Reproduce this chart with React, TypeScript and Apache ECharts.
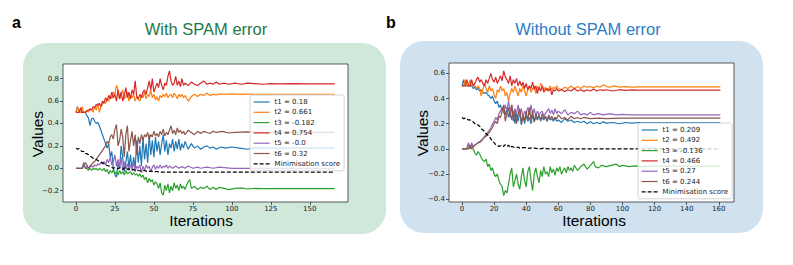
import React, { useEffect, useRef } from "react";
import * as echarts from "echarts";

// ---------- DATA (flat [iteration, value, iteration, value, ...]) ----------
const leftNames = ["t1 = 0.18", "t2 = 0.661", "t3 = -0.182", "t4 = 0.754", "t5 = -0.0", "t6 = 0.32", "Minimisation score"];
const rightNames = ["t1 = 0.209", "t2 = 0.492", "t3 = -0.136", "t4 = 0.466", "t5 = 0.27", "t6 = 0.244", "Minimisation score"];

const leftXTicks = [0, 25, 50, 75, 100, 125, 150];
const leftYTicks = [-0.2, 0, 0.2, 0.4, 0.6, 0.8];
const rightXTicks = [0, 20, 40, 60, 80, 100, 120, 140, 160];
const rightYTicks = [-0.4, -0.2, 0, 0.2, 0.4, 0.6];

const leftT1 = [0,0.5,1,0.55,2,0.5,3,0.5,4,0.5,5,0.5,6,0.5,7,0.47,8,0.45,9,0.38,10,0.44,11,0.45,12,0.42,13,0.4,14,0.41,15,0.38,16,0.34,17,0.3,18,0.26,19,0.22,20,0.18,21,0.22,22,0.1,23,0.15,24,0.0,25,-0.06,26,-0.08,27,0.05,28,0.0,29,0.2,30,0.1,31,-0.03,32,0.05,33,0.15,34,0.0,35,0.12,36,-0.02,37,0.1,38,0.0,39,0.25,40,0.05,41,0.2,42,0.02,43,0.28,44,0.08,45,0.22,46,0.05,47,0.3,48,0.12,49,0.25,50,0.1,51,0.28,52,0.15,53,0.24,54,0.12,55,0.22,56,0.3,57,0.15,58,0.25,59,0.12,60,0.22,61,0.18,62,0.26,63,0.15,64,0.24,65,0.17,66,0.26,67,0.16,68,0.22,69,0.18,70,0.24,72,0.17,74,0.22,76,0.18,78,0.2,80,0.17,82,0.19,84,0.2,86,0.18,88,0.19,90,0.17,93,0.19,96,0.18,100,0.19,105,0.18,110,0.17,115,0.185,120,0.18,130,0.18,166,0.18];
const leftT2 = [0,0.5,1,0.55,2,0.5,3,0.5,4,0.55,5,0.5,6,0.5,7,0.52,8,0.5,9,0.52,10,0.53,11,0.5,12,0.55,13,0.52,14,0.58,15,0.5,16,0.55,17,0.57,18,0.6,19,0.58,20,0.62,21,0.6,22,0.65,23,0.62,24,0.68,25,0.66,26,0.74,27,0.7,28,0.62,29,0.66,30,0.7,31,0.62,32,0.64,33,0.68,34,0.6,35,0.65,36,0.63,37,0.66,38,0.6,39,0.64,40,0.62,41,0.6,42,0.65,43,0.63,44,0.68,45,0.62,46,0.66,47,0.64,48,0.7,49,0.63,50,0.66,51,0.61,52,0.64,53,0.6,54,0.65,55,0.63,56,0.66,57,0.64,58,0.67,59,0.63,60,0.65,61,0.66,62,0.63,63,0.67,64,0.65,65,0.62,66,0.66,67,0.64,68,0.66,69,0.63,70,0.65,72,0.6,74,0.64,76,0.66,78,0.64,80,0.66,82,0.65,84,0.67,86,0.65,88,0.66,90,0.655,93,0.665,96,0.66,100,0.665,105,0.66,110,0.662,120,0.66,130,0.661,166,0.661];
const leftT3 = [0,0,1,0,2,0,3,0,4,0,5,0.05,6,0,7,0,8,-0.02,9,0,10,-0.02,11,0,12,-0.01,13,0,14,-0.02,15,0,16,-0.01,17,-0.02,18,0,19,-0.03,20,-0.01,21,-0.05,22,-0.02,23,-0.04,24,-0.01,25,-0.05,26,-0.03,27,-0.06,28,-0.02,29,-0.05,30,-0.03,31,-0.06,32,-0.02,33,-0.05,34,-0.04,35,-0.03,36,-0.06,37,-0.04,38,-0.06,39,-0.05,40,-0.07,41,-0.05,42,-0.08,43,-0.06,44,-0.1,45,-0.08,46,-0.13,47,-0.09,48,-0.12,49,-0.1,50,-0.15,51,-0.12,52,-0.14,53,-0.18,54,-0.13,55,-0.22,56,-0.24,57,-0.15,58,-0.2,59,-0.14,60,-0.22,61,-0.16,62,-0.2,63,-0.13,64,-0.18,65,-0.15,66,-0.2,67,-0.14,68,-0.18,69,-0.16,70,-0.19,71,-0.15,72,-0.12,73,-0.1,74,-0.18,76,-0.16,78,-0.19,80,-0.17,82,-0.18,84,-0.16,86,-0.19,88,-0.17,90,-0.19,92,-0.17,95,-0.18,98,-0.19,102,-0.18,106,-0.175,110,-0.185,115,-0.18,120,-0.182,166,-0.182];
const leftT4 = [0,0.5,1,0.5,2,0.5,3,0.54,4,0.5,5,0.5,6,0.5,7,0.51,8,0.52,9,0.53,10,0.52,11,0.55,12,0.54,13,0.57,14,0.56,15,0.58,16,0.55,17,0.6,18,0.58,19,0.63,20,0.6,21,0.65,22,0.62,23,0.68,24,0.63,25,0.66,26,0.6,27,0.7,28,0.62,29,0.68,30,0.6,31,0.65,32,0.72,33,0.63,34,0.68,35,0.62,36,0.7,37,0.66,38,0.78,39,0.64,40,0.62,41,0.66,42,0.63,43,0.68,44,0.7,45,0.66,46,0.72,47,0.78,48,0.7,49,0.8,50,0.68,51,0.72,52,0.76,53,0.72,54,0.8,55,0.74,56,0.7,57,0.76,58,0.74,59,0.82,60,0.87,61,0.78,62,0.74,63,0.76,64,0.82,65,0.74,66,0.78,67,0.73,68,0.8,69,0.74,70,0.76,72,0.74,74,0.77,76,0.75,78,0.74,80,0.76,82,0.78,84,0.75,86,0.76,88,0.75,90,0.77,92,0.75,95,0.76,98,0.75,102,0.76,106,0.75,110,0.76,115,0.755,120,0.75,125,0.755,130,0.754,140,0.755,150,0.754,166,0.754];
const leftT5 = [0,0,1,0,2,0,3,0,4,0,5,0.05,6,0,7,0.02,8,0,9,0.01,10,0.02,11,0.01,12,0.03,13,0.02,14,0.04,15,0.03,16,0.05,17,0.04,18,0.06,19,0.03,20,0.08,21,0.05,22,0.1,23,0.03,24,0.06,25,0.12,26,0.02,27,0.08,28,0,29,0.1,30,-0.02,31,0.06,32,0,33,0.04,34,-0.02,35,0.03,36,0,37,0.05,38,-0.03,39,0.02,40,0,41,0.03,42,-0.04,43,0.02,44,-0.02,45,0.03,46,0,47,0.02,48,-0.03,49,0.01,50,0.03,51,-0.01,52,0.02,53,0,54,0.03,55,0,56,0.02,57,0.01,58,0.03,59,0,60,0.02,62,0,64,0.02,66,0,68,0.015,70,0,72,0.02,75,0,78,0.01,80,0,84,0.01,88,0,92,0.01,100,0,166,0];
const leftT6 = [0,0,1,0,2,0,3,0,4,0,5,0.02,6,0.05,7,0.03,8,0,9,0.02,10,0.03,11,0.05,12,0.06,13,0.08,14,0.1,15,0.12,16,0.14,17,0.16,18,0.18,19,0.2,20,0.24,21,0.22,22,0.28,23,0.3,24,0.26,25,0.35,26,0.39,27,0.2,28,0.25,29,0.35,30,0.28,31,0.1,32,0.3,33,0.38,34,0.15,35,0.25,36,0.33,37,0.2,38,0.3,39,0.12,40,0.28,41,0.22,42,0.3,43,0.25,44,0.3,45,0.28,46,0.32,47,0.26,48,0.3,49,0.28,50,0.33,51,0.29,52,0.31,53,0.28,54,0.33,55,0.3,56,0.35,57,0.29,58,0.32,59,0.3,60,0.34,61,0.38,62,0.31,63,0.34,64,0.3,65,0.36,66,0.32,67,0.34,68,0.31,69,0.33,70,0.3,72,0.34,74,0.32,76,0.3,78,0.33,80,0.31,82,0.33,84,0.32,86,0.31,88,0.33,90,0.32,94,0.33,98,0.315,102,0.32,110,0.325,120,0.32,166,0.32];
const leftScore = [0,0.18,1,0.17,2,0.175,3,0.16,4,0.15,5,0.15,6,0.13,7,0.13,8,0.12,9,0.11,10,0.1,11,0.09,12,0.085,13,0.08,14,0.07,15,0.06,16,0.055,17,0.05,18,0.04,19,0.03,20,0.025,21,0.02,22,0.015,23,0.01,24,0,25,0.005,26,0,27,-0.005,28,0.005,29,0,30,-0.01,31,0,32,0.01,33,-0.01,34,-0.005,35,-0.01,36,-0.015,37,-0.01,38,-0.02,39,-0.015,40,-0.02,42,-0.025,44,-0.02,46,-0.03,48,-0.025,50,-0.03,52,-0.03,55,-0.035,166,-0.035];

const rightT1 = [0,0.5,1,0.55,2,0.5,3,0.5,4,0.5,5,0.5,6,0.5,7,0.48,8,0.49,9,0.47,10,0.48,11,0.46,12,0.47,13,0.45,14,0.44,15,0.45,16,0.43,17,0.42,18,0.4,19,0.42,20,0.38,21,0.36,22,0.38,23,0.33,24,0.35,25,0.3,26,0.33,27,0.27,28,0.32,29,0.25,30,0.3,31,0.23,32,0.3,33,0.2,34,0.28,35,0.22,36,0.3,37,0.19,38,0.26,39,0.2,40,0.27,41,0.22,42,0.25,43,0.2,44,0.27,45,0.22,46,0.25,47,0.23,48,0.27,49,0.22,50,0.25,51,0.23,52,0.26,53,0.22,54,0.25,55,0.23,56,0.24,57,0.22,58,0.25,59,0.22,60,0.23,62,0.21,64,0.24,66,0.22,68,0.23,70,0.21,72,0.22,74,0.21,76,0.22,78,0.2,80,0.215,82,0.2,84,0.21,86,0.2,88,0.215,90,0.205,94,0.21,98,0.2,102,0.21,106,0.205,110,0.21,161,0.209];
const rightT2 = [0,0.5,1,0.5,2,0.55,3,0.5,4,0.5,5,0.55,6,0.5,7,0.5,8,0.5,9,0.48,10,0.5,11,0.48,12,0.42,13,0.47,14,0.52,15,0.48,16,0.45,17,0.5,18,0.46,19,0.48,20,0.43,21,0.4,22,0.47,23,0.45,24,0.5,25,0.46,26,0.48,27,0.42,28,0.45,29,0.38,30,0.44,31,0.48,32,0.45,33,0.5,34,0.46,35,0.42,36,0.48,37,0.45,38,0.5,39,0.46,40,0.42,41,0.47,42,0.5,43,0.45,44,0.48,45,0.5,46,0.44,47,0.5,48,0.47,49,0.52,50,0.5,51,0.47,52,0.49,53,0.46,54,0.48,55,0.5,56,0.47,57,0.49,58,0.48,59,0.5,60,0.48,62,0.47,64,0.49,66,0.48,68,0.5,70,0.48,72,0.495,74,0.48,76,0.5,78,0.49,80,0.495,82,0.485,84,0.5,86,0.49,88,0.51,90,0.495,92,0.49,95,0.5,98,0.49,102,0.495,106,0.49,110,0.492,161,0.492];
const rightT3 = [0,0,1,0,2,0,3,0,4,0.04,5,0,6,0.04,7,0,8,-0.03,9,-0.05,10,-0.02,11,-0.04,12,-0.07,13,-0.09,14,-0.1,15,-0.08,16,-0.14,17,-0.12,18,-0.17,19,-0.15,20,-0.2,21,-0.22,22,-0.2,23,-0.25,24,-0.28,25,-0.3,26,-0.37,27,-0.33,28,-0.35,29,-0.28,30,-0.2,31,-0.15,32,-0.3,33,-0.25,34,-0.2,35,-0.28,36,-0.32,37,-0.22,38,-0.15,39,-0.25,40,-0.3,41,-0.18,42,-0.14,43,-0.25,44,-0.33,45,-0.2,46,-0.15,47,-0.22,48,-0.27,49,-0.17,50,-0.22,51,-0.14,52,-0.2,53,-0.18,54,-0.22,55,-0.14,56,-0.19,57,-0.16,58,-0.21,59,-0.15,60,-0.18,61,-0.14,62,-0.2,63,-0.17,64,-0.15,65,-0.19,66,-0.14,67,-0.17,68,-0.15,69,-0.18,70,-0.13,72,-0.17,74,-0.14,76,-0.12,78,-0.16,80,-0.13,82,-0.1,83,-0.14,85,-0.15,87,-0.13,90,-0.14,93,-0.13,96,-0.12,98,-0.14,100,-0.13,104,-0.14,108,-0.135,112,-0.14,120,-0.136,161,-0.136];
const rightT4 = [0,0.5,1,0.5,2,0.5,3,0.55,4,0.5,5,0.5,6,0.55,7,0.5,8,0.52,9,0.55,10,0.57,11,0.53,12,0.55,13,0.52,14,0.5,15,0.55,16,0.52,17,0.56,18,0.6,19,0.55,20,0.53,21,0.57,22,0.52,23,0.55,24,0.58,25,0.54,26,0.62,27,0.57,28,0.55,29,0.52,30,0.58,31,0.5,32,0.55,33,0.52,34,0.56,35,0.5,36,0.54,37,0.5,38,0.53,39,0.48,40,0.52,41,0.47,42,0.5,43,0.48,44,0.53,45,0.47,46,0.5,47,0.44,48,0.49,49,0.46,50,0.5,51,0.45,52,0.47,53,0.48,54,0.46,55,0.48,56,0.43,57,0.47,58,0.46,59,0.48,60,0.46,62,0.47,64,0.455,66,0.47,68,0.46,70,0.48,72,0.46,74,0.47,76,0.455,78,0.47,80,0.46,82,0.475,84,0.46,86,0.47,88,0.465,90,0.47,94,0.46,98,0.47,102,0.465,106,0.468,110,0.466,161,0.466];
const rightT5 = [0,0,1,0,2,0,3,0,4,0.05,5,0,6,0.05,7,0.02,8,0.03,9,0.04,10,0.05,11,0.06,12,0.07,13,0.08,14,0.1,15,0.11,16,0.13,17,0.15,18,0.17,19,0.2,20,0.22,21,0.25,22,0.23,23,0.28,24,0.3,25,0.33,26,0.28,27,0.35,28,0.3,29,0.38,30,0.3,31,0.35,32,0.27,33,0.32,34,0.28,35,0.35,36,0.26,37,0.32,38,0.25,39,0.3,40,0.28,41,0.33,42,0.27,43,0.35,44,0.28,45,0.32,46,0.26,47,0.3,48,0.27,49,0.29,50,0.3,51,0.26,52,0.28,53,0.3,54,0.32,55,0.28,56,0.31,57,0.27,58,0.32,59,0.28,60,0.3,62,0.28,64,0.31,66,0.27,68,0.29,70,0.28,72,0.3,74,0.27,76,0.28,78,0.27,80,0.29,82,0.27,85,0.28,88,0.27,92,0.28,96,0.27,100,0.275,105,0.27,161,0.27];
const rightT6 = [0,0,1,0,2,0,3,0,4,0,5,0.03,6,0,7,0.02,8,0.03,9,0.04,10,0.05,11,0.05,12,0.06,13,0.08,14,0.09,15,0.1,16,0.12,17,0.13,18,0.15,19,0.17,20,0.2,21,0.22,22,0.2,23,0.26,24,0.25,25,0.3,26,0.35,27,0.22,28,0.28,29,0.33,30,0.25,31,0.35,32,0.22,33,0.3,34,0.2,35,0.28,36,0.32,37,0.2,38,0.27,39,0.22,40,0.3,41,0.22,42,0.33,43,0.23,44,0.3,45,0.21,46,0.28,47,0.24,48,0.26,49,0.23,50,0.28,51,0.24,52,0.26,53,0.22,54,0.27,55,0.24,56,0.26,57,0.23,58,0.25,59,0.24,60,0.27,62,0.24,64,0.25,66,0.23,68,0.26,70,0.24,72,0.25,74,0.24,76,0.25,78,0.245,80,0.24,85,0.245,90,0.24,100,0.245,161,0.244];
const rightScore = [0,0.25,1,0.24,2,0.245,3,0.235,4,0.23,5,0.23,6,0.22,7,0.215,8,0.2,9,0.2,10,0.19,11,0.18,12,0.16,13,0.15,14,0.14,15,0.12,16,0.11,17,0.1,18,0.08,19,0.06,20,0.05,21,0.035,22,0.03,23,0.02,24,0.025,25,0.03,26,0.02,27,0.035,28,0.02,29,0.03,30,0.01,31,0.02,32,0.015,33,0.01,34,0.01,35,0.015,36,0.005,38,0.01,40,0.01,42,0.005,44,0.01,46,0.005,48,0,50,0.005,55,0,161,0];

const leftSeries = [leftT1, leftT2, leftT3, leftT4, leftT5, leftT6, leftScore];
const rightSeries = [rightT1, rightT2, rightT3, rightT4, rightT5, rightT6, rightScore];

// ---------- STYLES ----------
const COLORS = ["#1f77b4", "#ff7f0e", "#2ca02c", "#d62728", "#9467bd", "#8c564b", "#000000"];
const FONT = "'Liberation Sans', Arial, sans-serif";
const TICKFONT = "'DejaVu Sans', sans-serif";

function pairs(flat: number[]): number[][] {
  const out: number[][] = [];
  for (let i = 0; i + 1 < flat.length; i += 2) out.push([flat[i], flat[i + 1]]);
  return out;
}

function fmtY(v: number) {
  const s = Math.abs(v).toFixed(1);
  return v < -1e-9 ? "\u2212" + s : s;
}

function makeAxes(gridIndex: number, xmin: number, xmax: number, ymin: number, ymax: number, xt: number[], yt: number[]) {
  const tick = { show: true, inside: false, length: 3, lineStyle: { color: "#333", width: 0.8 } };
  const x = {
    type: "value", gridIndex, min: xmin, max: xmax, position: "bottom",
    axisLine: { show: false, onZero: false },
    splitLine: { show: false },
    axisTick: { ...tick, customValues: xt },
    axisLabel: { customValues: xt, fontSize: 7, color: "#222", margin: 3.5, fontFamily: TICKFONT, formatter: (v: number) => String(Math.round(v)) },
  };
  const y = {
    type: "value", gridIndex, min: ymin, max: ymax, position: "left",
    axisLine: { show: false, onZero: false },
    splitLine: { show: false },
    axisTick: { ...tick, customValues: yt },
    axisLabel: { customValues: yt, fontSize: 7, color: "#222", margin: 4, fontFamily: TICKFONT, formatter: (v: number) => fmtY(v) },
  };
  return { x, y };
}

function makeSeries(names: string[], datas: number[][], idx: number) {
  return names.map((name, i) => ({
    type: "line",
    name,
    xAxisIndex: idx,
    yAxisIndex: idx,
    data: pairs(datas[i]),
    symbol: "none",
    showSymbol: false,
    silent: true,
    lineStyle: { color: COLORS[i], width: 1.2, type: i === 6 ? [4, 2] : "solid" },
    itemStyle: { color: COLORS[i] },
  }));
}

function makeLegend(names: string[], left: number, top: number) {
  return {
    orient: "vertical",
    left, top,
    data: names,
    selectedMode: false,
    itemWidth: 16,
    itemHeight: 8,
    itemGap: 2.3,
    padding: [3, 4, 3, 3],
    itemStyle: { opacity: 0 },
    lineStyle: { width: 1.2 },
    backgroundColor: "rgba(255,255,255,0.8)",
    borderColor: "#cccccc",
    borderWidth: 0.8,
    borderRadius: 2,
    textStyle: { fontSize: 7, fontFamily: TICKFONT, color: "#222", lineHeight: 8 },
  };
}

export default function App() {
  const ref = useRef<HTMLDivElement>(null);
  useEffect(() => {
    if (!ref.current) return;
    const chart = echarts.init(ref.current, null, { renderer: "svg" });
    const a = makeAxes(0, -8.3, 174.5, -0.301, 0.931, leftXTicks, leftYTicks);
    const b = makeAxes(1, -8.1, 169.5, -0.421, 0.682, rightXTicks, rightYTicks);
    chart.setOption({
      animation: false,
      backgroundColor: "#ffffff",
      grid: [
        { left: 63, top: 64, width: 285, height: 138, show: true, backgroundColor: "#ffffff", borderColor: "#333", borderWidth: 0.8 },
        { left: 449, top: 63, width: 285, height: 139, show: true, backgroundColor: "#ffffff", borderColor: "#333", borderWidth: 0.8 },
      ],
      xAxis: [a.x, b.x],
      yAxis: [a.y, b.y],
      legend: [makeLegend(leftNames, 250, 95), makeLegend(rightNames, 638, 123)],
      series: [...makeSeries(leftNames, leftSeries, 0), ...makeSeries(rightNames, rightSeries, 1)],
      graphic: [
        { type: "rect", z: -10, silent: true, shape: { x: 23, y: 43, width: 363, height: 191, r: 24 }, style: { fill: "#cfe8da" } },
        { type: "rect", z: -10, silent: true, shape: { x: 400, y: 41, width: 363, height: 192, r: 24 }, style: { fill: "#d0e1ef" } },
        { type: "text", x: 12, y: 22, style: { text: "a", font: `bold 16px ${FONT}`, fill: "#000", verticalAlign: "middle" } },
        { type: "text", x: 386, y: 22, style: { text: "b", font: `bold 16px ${FONT}`, fill: "#000", verticalAlign: "middle" } },
        { type: "text", x: 206, y: 29, style: { text: "With SPAM error", font: `16.5px ${FONT}`, fill: "#1b7a45", align: "center", verticalAlign: "middle" } },
        { type: "text", x: 588, y: 29, style: { text: "Without SPAM error", font: `16.5px ${FONT}`, fill: "#2a7cc8", align: "center", verticalAlign: "middle" } },
        { type: "text", x: 37.5, y: 134, rotation: Math.PI / 2, style: { text: "Values", font: `15.5px ${FONT}`, fill: "#000", align: "center", verticalAlign: "middle" } },
        { type: "text", x: 422, y: 133, rotation: Math.PI / 2, style: { text: "Values", font: `15.5px ${FONT}`, fill: "#000", align: "center", verticalAlign: "middle" } },
        { type: "text", x: 201, y: 220, style: { text: "Iterations", font: `15.5px ${FONT}`, fill: "#000", align: "center", verticalAlign: "middle" } },
        { type: "text", x: 594, y: 220, style: { text: "Iterations", font: `15.5px ${FONT}`, fill: "#000", align: "center", verticalAlign: "middle" } },
      ],
    });
    return () => chart.dispose();
  }, []);
  return <div ref={ref} style={{ position: "fixed", left: 0, top: 0, width: 793, height: 265 }} />;
}
